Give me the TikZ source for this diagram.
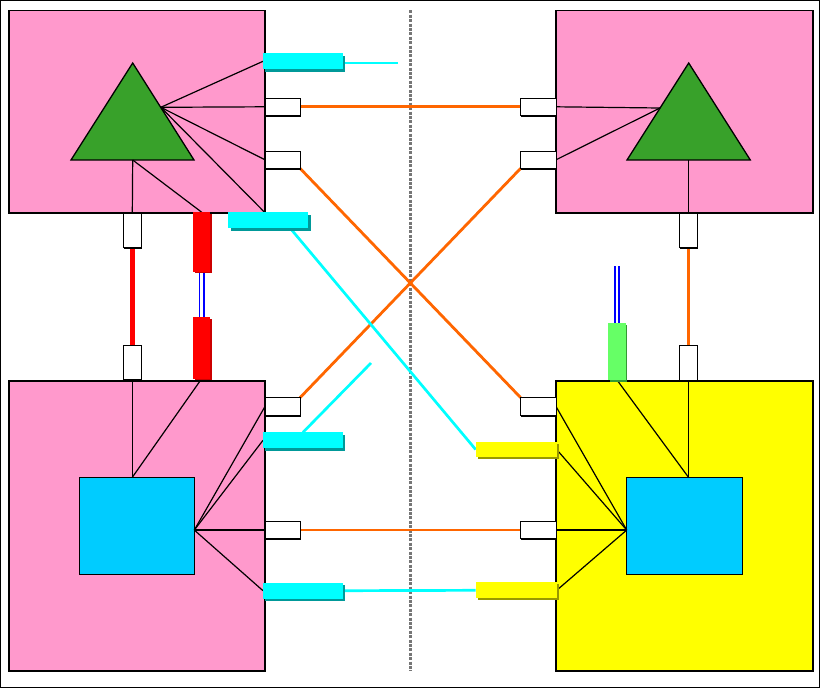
\documentclass[tikz,border=0pt]{standalone}
\usetikzlibrary{shadows,calc}
\definecolor{pinkbg}{RGB}{255,153,204}
\definecolor{trigreen}{RGB}{56,161,42}
\definecolor{sqblue}{RGB}{0,204,255}
\definecolor{yel}{RGB}{255,255,0}
\definecolor{cyanz}{RGB}{0,255,255}
\definecolor{tealsh}{RGB}{0,153,153}
\definecolor{yelsh}{RGB}{153,153,0}
\definecolor{orangeL}{RGB}{255,102,0}
\definecolor{redL}{RGB}{255,0,0}
\definecolor{redsh}{RGB}{204,0,0}
\definecolor{grnbox}{RGB}{102,255,102}
\definecolor{grnsh}{RGB}{51,153,51}
\definecolor{blueL}{RGB}{0,0,255}
\definecolor{divgray}{RGB}{118,118,118}
\pgfdeclarelayer{back}
\pgfdeclarelayer{mid}
\pgfsetlayers{back,mid,main}
\newcommand\bx[6]{\node[#2, anchor=north west, minimum width=#5pt, minimum height=#6pt] (#1) at (#3,#4) {};}
\tikzset{
  base/.style={inner sep=0pt, outer sep=0pt},
  bigbox/.style={base, draw=black, line width=1.6pt},
  tri/.style={draw=black, line width=1.3pt, fill=trigreen, line join=miter},
  sq/.style={base, draw=black, line width=1.3pt, fill=sqblue},
  port/.style={base, draw=black, fill=white, line width=1pt,
    drop shadow={shadow xshift=0.6pt, shadow yshift=-1.3pt, fill=black, opacity=1}},
  cyb/.style={base, fill=cyanz,
    drop shadow={shadow xshift=2.4pt, shadow yshift=-2.3pt, fill=tealsh, opacity=1}},
  yeb/.style={base, fill=yel,
    drop shadow={shadow xshift=2.4pt, shadow yshift=-2pt, fill=yelsh, opacity=1}},
  redb/.style={base, fill=redL,
    drop shadow={shadow xshift=1.5pt, shadow yshift=-1.5pt, fill=redsh, opacity=1}},
  grnb/.style={base, fill=grnbox,
    drop shadow={shadow xshift=1.5pt, shadow yshift=-1.5pt, fill=grnsh, opacity=1}},
  inner/.style={draw=black, line width=1.2pt},
  orangeline/.style={draw=orangeL, line width=2.8pt},
  cyanline/.style={draw=cyanz, line width=2.7pt},
  redline/.style={draw=redL, line width=4.5pt, line cap=round},
  fibre/.style={draw=blueL, line width=1.7pt, double=white, double distance=2.8pt},
  divider/.style={draw=divgray, line width=2.4pt, dash pattern=on 3pt off 1.4pt},
}
\begin{document}
\begin{tikzpicture}[x=1pt,y=-1pt]
\useasboundingbox (0,0) rectangle (821,688);
\begin{pgfonlayer}{back}
\bx{TL}{bigbox, fill=pinkbg}{8.7}{10.3}{256.3}{202.4}
\bx{TR}{bigbox, fill=pinkbg}{556}{10.3}{256.7}{202.4}
\bx{BL}{bigbox, fill=pinkbg}{8.7}{380.7}{256.3}{290.3}
\bx{BR}{bigbox, fill=yel}{556}{380.7}{256.7}{290.3}
\draw[tri] (132.7,63) coordinate (TLa) -- (194,160) coordinate (TLr) -- (71,160) coordinate (TLl) -- cycle;
\draw[tri] (688.7,63) coordinate (TRa) -- (750.3,160) coordinate (TRr) -- (627,160) coordinate (TRl) -- cycle;
\coordinate (TLm) at (132.7,160);
\coordinate (TLv) at (160.8,107.3);
\coordinate (TRm) at (688.5,160);
\coordinate (TRv) at (660,108);
\bx{BLs}{sq}{79.3}{477.3}{115}{97}
\bx{BRs}{sq}{626.7}{477.3}{115.6}{97}
\end{pgfonlayer}
% ports and small boxes
\bx{TLp1}{port}{265}{98.3}{35}{17}
\bx{TLp2}{port}{265}{151.3}{35}{17}
\bx{TRp1}{port}{520.7}{98.3}{35.3}{17}
\bx{TRp2}{port}{520.7}{151.3}{35.3}{17}
\bx{BLp1}{port}{265}{397.7}{35}{17.5}
\bx{BLp2}{port}{265}{521.3}{35}{17.5}
\bx{BRp1}{port}{520.7}{397.7}{35.3}{17.5}
\bx{BRp2}{port}{520.7}{521.3}{35.3}{17.5}
\bx{TLb}{port}{123.3}{213}{18}{34.5}
\bx{BLt}{port}{123.3}{345.3}{18}{34.5}
\bx{TRb}{port}{679.7}{213}{17.6}{34.5}
\bx{BRt}{port}{679.7}{345.7}{17.6}{34.5}
\bx{TLc1}{cyb}{263}{53.3}{80}{16}
\bx{TLc2}{cyb}{228.3}{212.3}{80}{16}
\bx{BLc1}{cyb}{263}{432.3}{80}{16}
\bx{BLc2}{cyb}{263}{582.7}{80}{16}
\bx{BRy1}{yeb}{475.7}{441.7}{81}{15.7}
\bx{BRy2}{yeb}{475.7}{582.3}{81}{16}
\bx{R1}{redb}{193.3}{212.3}{17}{59.5}
\bx{R2}{redb}{193.3}{317.3}{17}{61.2}
\bx{G1}{grnb}{608.3}{323.3}{17.4}{56.7}
\coordinate (TLc1free) at (398,63);
\coordinate (BLc1free) at (371,363);
\coordinate (G1free) at (618,265.7);
\coordinate (divtop) at (410.3,10.3);
\coordinate (divbot) at (410.3,671);
\coordinate (BLv) at (BLs.east |- BLp2.west);
\coordinate (BRv) at (BRs.west |- BRp2.east);
\begin{pgfonlayer}{mid}
% inner wiring
\draw[inner] (TLv) -- (TLc1.west);
\draw[inner] (TLv) -- (TLp1.west);
\draw[inner] (TLv) -- (TLp2.west);
\draw[inner] (TLv) -- (TL.south east);
\draw[inner] (TLm) -- (TLb.north);
\draw[inner] (TLm) -- (R1.north);
\draw[inner] (TRv) -- (TRp1.east);
\draw[inner] (TRv) -- (TRp2.east);
\draw[inner] (TRm) -- (TRb.north);
\draw[inner] (BLv) -- (BLp1.west);
\draw[inner] (BLv) -- (BLc1.west);
\draw[inner] (BLv) -- (BLp2.west);
\draw[inner] (BLv) -- (BLc2.west);
\draw[inner] (BLt.south) -- (BLt.south |- BLs.north);
\draw[inner] (R2.south) -- (BLt.south |- BLs.north);
\draw[inner] (BRv) -- (BRp1.east);
\draw[inner] (BRv) -- (BRy1.east);
\draw[inner] (BRv) -- (BRp2.east);
\draw[inner] (BRv) -- (BRy2.east);
\draw[inner] (BRt.south) -- (BRt.south |- BRs.north);
\draw[inner] (G1.south) -- (BRt.south |- BRs.north);
% divider
\draw[divider] (divtop) -- (divbot);
% links
\draw[orangeline] (TLp1.east) -- (TRp1.west);
\draw[orangeline] (TLp2.south east) -- (BRp1.north west);
\draw[orangeline] (TRp2.south west) -- (BLp1.north east);
\draw[orangeline] (BLp2.east) -- (BRp2.west);
\draw[orangeline] (TRb.south) -- (BRt.north);
\draw[redline] (TLb.south) -- (BLt.north);
\draw[cyanline] (TLc1.east |- TLc1free) -- (TLc1free);
\draw[cyanline] ([xshift=-18pt]TLc2.south east) -- (BRy1.west);
\draw[cyanline] (BLc1.north) -- (BLc1free);
\draw[cyanline] (BLc2.east) -- (BRy2.west);
\draw[fibre] (R1.south) -- (R2.north);
\draw[fibre] (G1.north) -- (G1.north |- G1free);
\end{pgfonlayer}
\draw[line width=1.3pt] (0.7,0.7) rectangle (819.5,687.3);
\end{tikzpicture}
\end{document}
